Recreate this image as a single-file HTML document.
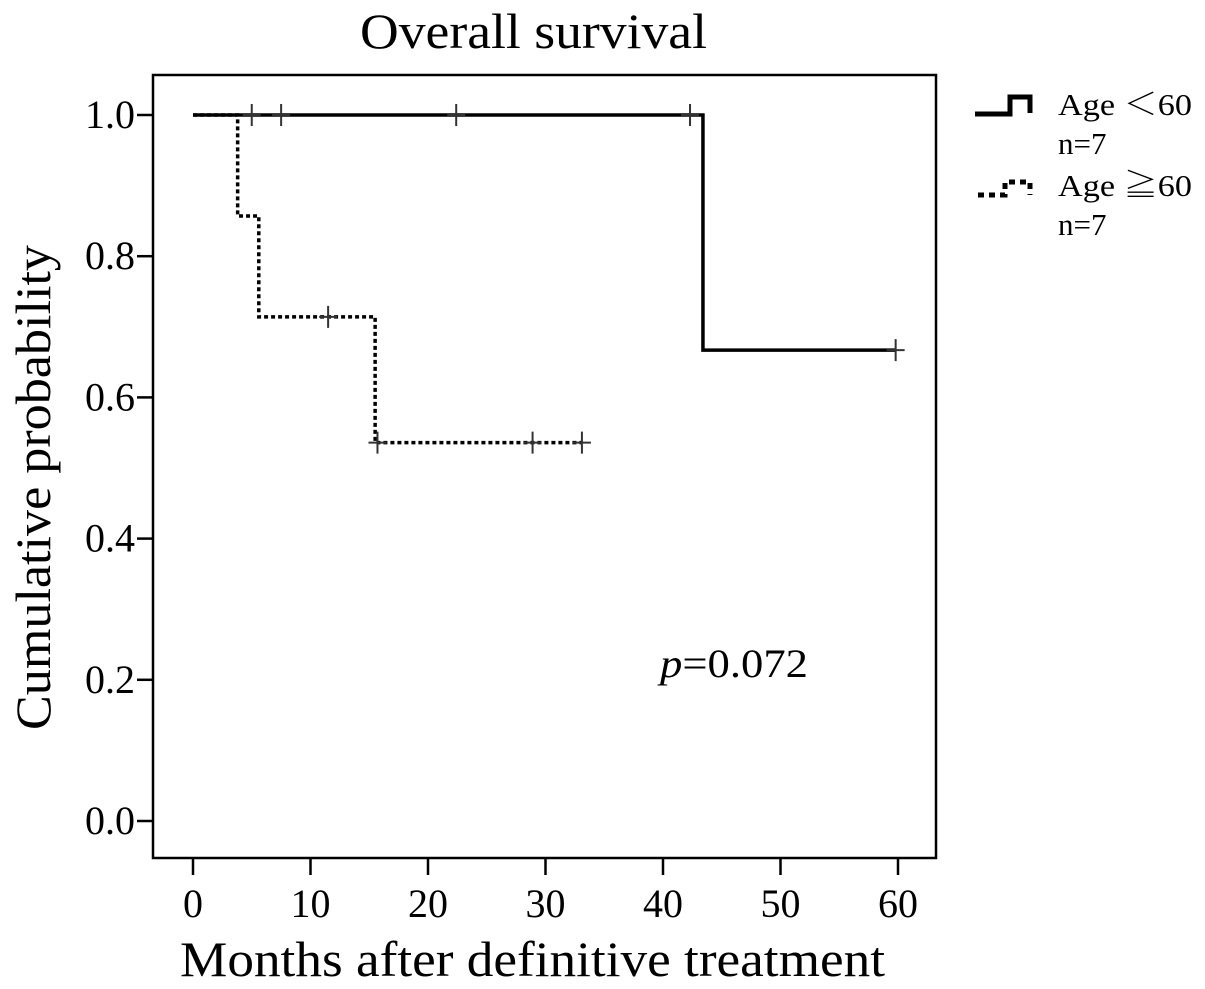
<!DOCTYPE html>
<html><head><meta charset="utf-8"><style>
html,body{margin:0;padding:0;background:#fff;}
svg{display:block;font-family:"Liberation Serif","Noto Serif CJK SC",serif;}
</style></head><body>
<svg id="chart" width="1205" height="989" viewBox="0 0 1205 989">
<text x="360" y="48" font-size="50" textLength="347" lengthAdjust="spacingAndGlyphs">Overall survival</text>
<rect x="153" y="75" width="783" height="783" fill="none" stroke="#000" stroke-width="2.5"/>
<g id="axes"></g>
<g id="series"></g>
<text transform="translate(50,730) rotate(-90)" font-size="50" textLength="485" lengthAdjust="spacingAndGlyphs">Cumulative probability</text>
<text x="180" y="976" font-size="50" textLength="705" lengthAdjust="spacingAndGlyphs">Months after definitive treatment</text>
<text x="660" y="677" font-size="40" textLength="148" lengthAdjust="spacingAndGlyphs"><tspan font-style="italic">p</tspan>=0.072</text>
<g>
<path d="M975 114 H1010 V97 H1030 V113" fill="none" stroke="#000" stroke-width="5"/>
<text x="1058" y="115" font-size="31" textLength="134" lengthAdjust="spacingAndGlyphs">Age ＜60</text>
<text x="1058" y="154" font-size="31">n=7</text>
<path d="M978 195 H1005 V182 H1030 V195" fill="none" stroke="#000" stroke-width="5" stroke-dasharray="6,5"/>
<text x="1058" y="196" font-size="31" textLength="134" lengthAdjust="spacingAndGlyphs">Age ≧60</text>
<text x="1058" y="235" font-size="31">n=7</text>
</g>
</svg>
<script>
const xTicks=[0,10,20,30,40,50,60];
const yTicks=[0.0,0.2,0.4,0.6,0.8,1.0];
const yTickLabels=["0.0","0.2","0.4","0.6","0.8","1.0"];
const youngTimes=[0,43.4,59.8];
const youngSurv=[1.0,0.667,0.667];
const youngCensorT=[5.0,7.5,22.4,42.3,59.8];
const youngCensorS=[1.0,1.0,1.0,1.0,0.667];
const oldTimes=[0,3.8,5.6,15.5,33.1];
const oldSurv=[1.0,0.857,0.714,0.536,0.536];
const oldCensorT=[11.5,15.7,28.9,33.1];
const oldCensorS=[0.714,0.536,0.536,0.536];

const NS="http://www.w3.org/2000/svg";
const X=t=>193+t*(898-193)/60;
const Y=s=>821-s*(821-115);
function mk(tag,attrs,parent){const e=document.createElementNS(NS,tag);for(const k in attrs)e.setAttribute(k,attrs[k]);parent.appendChild(e);return e;}
const axes=document.getElementById('axes');
xTicks.forEach(t=>{
  const l=mk('line',{x1:X(t),x2:X(t),y1:858,y2:875,stroke:'#000','stroke-width':2.5},axes);
  
  
  const tx=mk('text',{x:X(t),y:917,'font-size':40,'text-anchor':'middle'},axes);
  tx.textContent=t;
  
  
});
yTicks.forEach((v,i)=>{
  const l=mk('line',{x1:137,x2:153,y1:Y(v),y2:Y(v),stroke:'#000','stroke-width':2.5},axes);
  
  
  const tx=mk('text',{x:135,y:Y(v)+13,'font-size':40,'text-anchor':'end'},axes);
  tx.textContent=yTickLabels[i];
  
  
});
const series=document.getElementById('series');
function stepPath(ts,ss){let d='M'+X(ts[0])+' '+Y(ss[0]);for(let i=1;i<ts.length;i++){d+=' H'+X(ts[i])+' V'+Y(ss[i]);}return d;}
const p1=mk('path',{d:stepPath(youngTimes,youngSurv),fill:'none',stroke:'#000','stroke-width':3.5},series);


const p2=mk('path',{d:stepPath(oldTimes,oldSurv),fill:'none',stroke:'#000','stroke-width':3.5,'stroke-dasharray':'4,3'},series);


function censor(ts,ss,name){ts.forEach((t,i)=>{
  const g=mk('path',{d:'M'+X(t)+' '+(Y(ss[i])-11)+' V'+(Y(ss[i])+11)+' M'+(X(t)-9)+' '+Y(ss[i])+' H'+(X(t)+9),stroke:'#333','stroke-width':2,fill:'none'},series);
  
  
});}
censor(youngCensorT,youngCensorS,'censor-under-60');
censor(oldCensorT,oldCensorS,'censor-60-plus');
</script>
</body></html>
